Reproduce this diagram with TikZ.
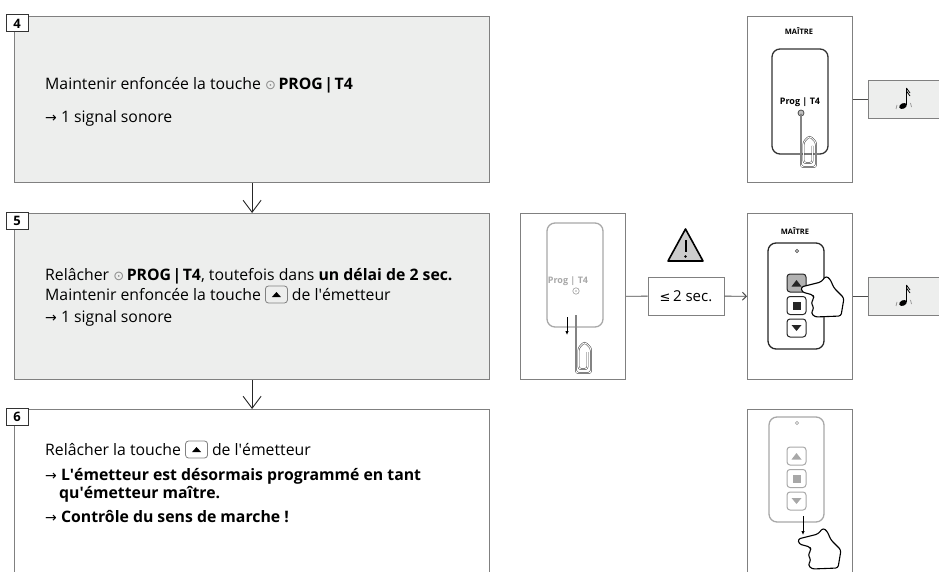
\documentclass[tikz,border=0pt]{standalone}
\usepackage{fontspec}
\setmainfont{Open Sans}
\newfontfamily\symfont{DejaVu Sans}
\usetikzlibrary{arrows.meta}

\definecolor{panelgrey}{HTML}{EDEEED}
\definecolor{framegrey}{HTML}{808080}
\definecolor{fadegrey}{HTML}{A8A8A8}

% little "up" key set inside the running text
\newsavebox{\upkey}
\savebox{\upkey}{\tikz[baseline=3pt, line width=0.8pt]{
  \draw[framegrey, rounded corners=3pt] (0,0) rectangle (22pt,17pt);
  \fill (6.5pt,6pt) -- (15.5pt,6pt) -- (11pt,11pt) -- cycle;}}

\newcommand{\progdot}{{\color{black!45}\symfont\fontsize{13}{13}\selectfont ⊙}}
\newcommand{\resultarrow}{{\symfont\fontsize{14}{14}\selectfont →}\ }
\newcommand{\apos}{\textquotesingle}
\newcommand{\progtf}{\textbf{PROG\kern1.5pt|\kern1.5ptT4}}

% wire + clip, wire x / wire top / clip bottom
\newcommand{\paperclip}[3]{%
  \draw[black!75, double=white, double distance=0.9pt, line width=0.5pt, rounded corners=2.5pt]
    (#1,#2) -- (#1,#3) -- (#1+15,#3) -- (#1+15,#3-25) -- (#1+8.5,#3-31) -- (#1+2.5,#3-25)
    -- (#1+2.5,#3-4) -- (#1+11.5,#3-4) -- (#1+11.5,#3-21);
}

% pointing hand, origin at the finger tip
\newcommand{\pointhand}[2]{%
  \draw[fill=white, line width=1.1pt, rounded corners=2.5pt, line join=round, shift={(#1,#2)}]
    (0,-1) -- (20,-6) -- (25,-12) -- (29,-9) -- (33,0) -- (43,10) -- (40,28) -- (14,29)
    -- (10,25) -- (13,20) -- (10,15) -- (13,10) -- (12,7) -- (1,4) -- cycle;
}

% beep symbol, origin at the note head
\newcommand{\beepnote}[2]{%
  \fill[rotate around={25:(#1,#2)}] (#1,#2) ellipse (4pt and 2.7pt);
  \draw[line width=1pt] (#1+3.4,#2-1) -- (#1+3.4,#2-18);
  \draw[line width=0.8pt] (#1+3.4,#2-18) -- (#1+7,#2-13) (#1+3.4,#2-15) -- (#1+7,#2-10);
  \draw[black!45, line width=0.7pt] (#1-6,#2-1) -- (#1-7,#2+3) (#1+7.5,#2-3) -- (#1+8.5,#2+1);
}

% three keys of the hand transmitter
\newcommand{\keypad}[3]{%
  \foreach \k in {0,1,2}
    \draw[#3, line width=1pt, rounded corners=3pt] (#1,#2+\k*22.5) rectangle ++(19,18);
  \fill[#3] (#1+4.5,#2+12.5) -- (#1+14.5,#2+12.5) -- (#1+9.5,#2+6) -- cycle;
  \fill[#3] (#1+5.5,#2+27.5) rectangle ++(8,8);
  \fill[#3] (#1+4.5,#2+51) -- (#1+14.5,#2+51) -- (#1+9.5,#2+57) -- cycle;
}

\begin{document}
\begin{tikzpicture}[x=1pt, y=-1pt, >={Straight Barb[length=12pt,width=18pt]}]
    \useasboundingbox (0,0) rectangle (939,572);
    \clip (0,0) rectangle (939,572);

    \tikzstyle{stepbox} = [draw=framegrey, line width=1.2pt, fill=panelgrey, anchor=north west,
        minimum width=475pt, minimum height=166pt, inner sep=0pt]
    \tikzstyle{numbox} = [draw=black!80, line width=1pt, fill=white, minimum width=22pt,
        minimum height=17pt, inner sep=0pt, font=\fontsize{13}{13}\bfseries\selectfont]
    \tikzstyle{txt} = [anchor=base west, inner sep=0pt, font=\fontsize{15.8}{18}\selectfont]
    \tikzstyle{panel} = [draw=framegrey, line width=1pt, anchor=north west, minimum width=105pt,
        minimum height=166pt, inner sep=0pt]
    \tikzstyle{beepbox} = [draw=framegrey, line width=1pt, fill=panelgrey, anchor=north west,
        minimum width=80pt, minimum height=38pt, inner sep=0pt]
    \tikzstyle{flow} = [->, line width=0.9pt, black!85]
    \tikzstyle{link} = [line width=0.9pt, black!70]
    \tikzstyle{label} = [inner sep=0pt, font=\fontsize{7.5}{8}\bfseries\selectfont]

    % step 4
    \node[stepbox] (box4) at (14,16) {};
    \node[numbox] (n4) at (17,23.5) {4};
    \node[txt] (t4a) at (45,90) {Maintenir enfoncée la touche \progdot\,\progtf};
    \node[txt] (t4b) at (45,123) {\resultarrow 1 signal sonore};

    % step 5
    \node[stepbox] (box5) at (14,213) {};
    \node[numbox] (n5) at (17,221) {5};
    \node[txt] (t5a) at (45,280) {Relâcher \progdot\,\progtf, toutefois dans \textbf{un délai de 2 sec.}};
    \node[txt] (t5b) at (45,300) {Maintenir enfoncée la touche \usebox{\upkey} de l\apos émetteur};
    \node[txt] (t5c) at (45,322) {\resultarrow 1 signal sonore};

    % step 6
    \node[stepbox, fill=white, minimum height=180pt] (box6) at (14,409) {};
    \node[numbox] (n6) at (17,417) {6};
    \node[txt] (t6a) at (45,455) {Relâcher la touche \usebox{\upkey} de l\apos émetteur};
    \node[txt] (t6b) at (45,480) {\resultarrow \textbf{L\apos émetteur est désormais programmé en tant}};
    \node[txt] (t6c) at (59,498) {\textbf{qu\apos émetteur maître.}};
    \node[txt] (t6d) at (45,522) {\resultarrow \textbf{Contrôle du sens de marche !}};

    \draw[flow] (box4.south) -- (box5.north);
    \draw[flow] (box5.south) -- (box6.north);

    % receiver with PROG pressed
    \node[panel] (pa) at (747,16) {};
    \node[label] (ma) at (799,31) {MAÎTRE};
    \draw[black!80, line width=1.3pt, rounded corners=8pt] (772,49) rectangle (828,154);
    \node[label, font=\fontsize{9}{9}\bfseries\selectfont] (pga) at (800,102) {Prog | T4};
    \draw[black!70, fill=black!25, line width=0.8pt] (801,113) circle (3pt);
    \paperclip{801}{114}{167}
    \node[beepbox] (sa) at (868,80) {};
    \draw[link] (pa) -- (sa);
    \beepnote{903}{106}

    % receiver with PROG released
    \node[panel] (pb) at (520,213) {};
    \draw[fadegrey, line width=1.3pt, rounded corners=8pt] (547,223) rectangle (603,327);
    \node[label, text=fadegrey, font=\fontsize{9}{9}\bfseries\selectfont] (pgb) at (568,281) {Prog | T4};
    \draw[fadegrey, line width=0.7pt] (576,291) circle (3.2pt);
    \fill[fadegrey] (576,291) circle (0.9pt);
    \coordinate (rb1) at (567,317);
    \coordinate (rb2) at (567,335);
    \draw[-{Latex[length=4pt,width=3.5pt]}, line width=0.8pt] (rb1) -- (rb2);
    \paperclip{576}{315}{373}

    % warning sign and time limit
    \draw[line width=1.6pt, fill=black!20, line join=round] (668,261) -- (703,261) -- (685.5,229) -- cycle;
    \draw[line width=2pt] (685.5,240) -- (685.5,252);
    \fill (685.5,256.5) circle (1.4pt);
    \node[draw=framegrey, line width=1pt, minimum width=76pt, minimum height=38pt, inner sep=0pt,
        font=\fontsize{15}{16}\selectfont] (sec) at (686,296) {{\symfont\fontsize{13}{13}\selectfont ≤}\,2 sec.};
    \draw[link] (pb) -- (sec);

    % transmitter with the up key held
    \node[panel] (pc) at (747,213) {};
    \node[label] (mc) at (795,231) {MAÎTRE};
    \draw[black!85, line width=1.3pt, rounded corners=8pt] (768,243) rectangle (824,349);
    \draw[black!70, line width=0.6pt] (797,251) circle (1.6pt);
    \fill[black!30, rounded corners=3pt] (787,274) rectangle ++(19,18);
    \keypad{787}{274}{black!85}
    \pointhand{801}{288}
    \node[beepbox] (sc) at (868,277) {};
    \draw[link, -{Straight Barb[length=4pt,width=8pt]}] (sec) -- (pc);
    \draw[link] (pc) -- (sc);
    \beepnote{903}{303}

    % transmitter with the up key released
    \node[panel, minimum height=180pt] (pd) at (747,409) {};
    \draw[fadegrey, line width=1.3pt, rounded corners=8pt] (769,417) rectangle (824,522);
    \draw[fadegrey, line width=0.6pt] (797,423) circle (1.6pt);
    \keypad{787}{447}{fadegrey}
    \coordinate (rd1) at (803,516);
    \coordinate (rd2) at (803,535);
    \draw[-{Latex[length=4pt,width=3.5pt]}, line width=0.8pt] (rd1) -- (rd2);
    \pointhand{798}{540}
\end{tikzpicture}
\end{document}
